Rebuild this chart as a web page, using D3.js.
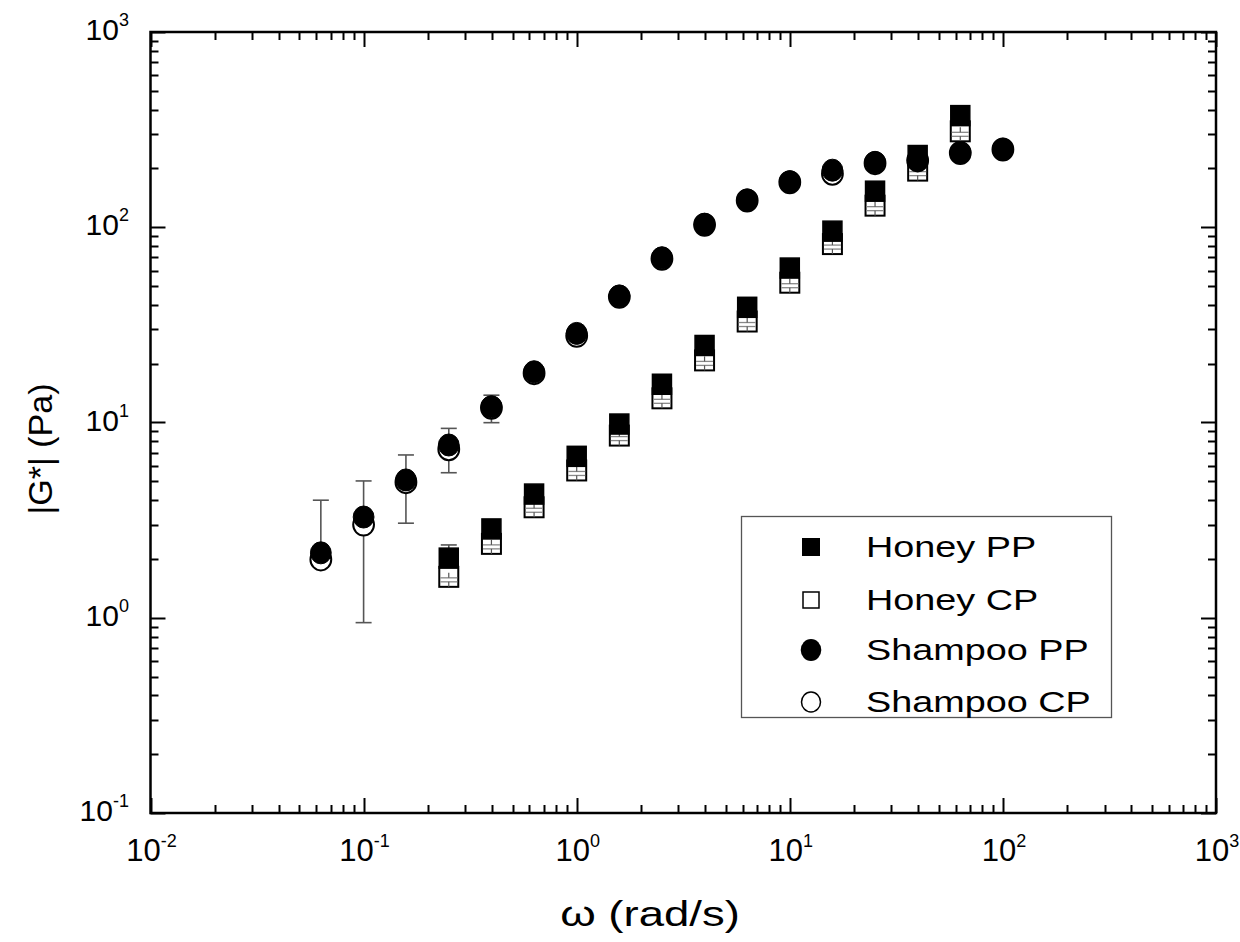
<!DOCTYPE html>
<html><head><meta charset="utf-8">
<script src="https://cdn.jsdelivr.net/npm/d3@7/dist/d3.min.js"></script>
<style>body{margin:0;background:#fff;} svg{display:block;} text{font-family:"Liberation Sans",Arial,sans-serif;fill:#000;}</style>
</head><body>
<svg id="c" width="1240" height="942"></svg>
<script>
// ---- data ----
const omegaShampoo = [0.063,0.1,0.158,0.251,0.398,0.631,1,1.585,2.512,3.981,6.31,10,15.85,25.12,39.81,63.1,100];
const shampooPP = [2.15,3.28,5.08,7.67,12.05,18.2,28.6,44.5,69.8,103.5,138,171,196,215,221,241,251];
const shampooCP = [1.99,3.0,4.95,7.3,11.9,17.9,27.8,44,69,103,137,170,188,213,220,240,250];
const omegaHoney = [0.251,0.398,0.631,1,1.585,2.512,3.981,6.31,10,15.85,25.12,39.81,63.1];
const honeyPP = [2.02,2.85,4.30,6.71,9.82,15.7,24.8,38.9,61.8,95.5,153,233,373];
const honeyCP = [1.62,2.39,3.68,5.68,8.57,13.3,20.8,32.9,52,82,129,195,310];
const errOmega = [0.063,0.1,0.158,0.251,0.398,0.251];
const errLow  = [2.0,0.944,3.05,5.53,9.98,2.0];
const errHigh = [4.0,5.02,6.82,9.33,13.8,2.36];
const xTickExp = [-2,-1,0,1,2,3];
const yTickExp = [-1,0,1,2,3];
const legendLabels = ["Honey PP","Honey CP","Shampoo PP","Shampoo CP"];
const xTitle = "ω (rad/s)";
const yTitle = "|G*| (Pa)";

const svg = d3.select("#c");
const L=150.5, R=1216, T=32, B=813;
const x = d3.scaleLog().domain([0.01,1000]).range([L,R]);
const y = d3.scaleLog().domain([0.1,1000]).range([B,T]);
const MAJ=15, MIN=8;

// ticks
const isMajor = v => Math.abs(Math.log10(v)-Math.round(Math.log10(v)))<1e-9;
const xt = x.ticks(), yt = y.ticks();
const tg = svg.append("g").attr("stroke","#000").attr("stroke-width",2);
xt.forEach(v=>{
  const len = isMajor(v)?MAJ:MIN, px = Math.round(x(v))+0.5;
  tg.append("line").attr("x1",px).attr("x2",px).attr("y1",B).attr("y2",B-len);
  tg.append("line").attr("x1",px).attr("x2",px).attr("y1",T).attr("y2",T+len);
});
yt.forEach(v=>{
  const len = isMajor(v)?MAJ:MIN, py = Math.round(y(v))+0.5;
  tg.append("line").attr("x1",L).attr("x2",L+len).attr("y1",py).attr("y2",py);
  tg.append("line").attr("x1",R).attr("x2",R-len).attr("y1",py).attr("y2",py);
});
svg.append("rect").attr("x",L).attr("y",T).attr("width",R-L).attr("height",B-T)
  .attr("fill","none").attr("stroke","#000").attr("stroke-width",2.5);

// tick labels
function powLabel(g, e, anchor, fs){
  const t = g.append("text").attr("text-anchor",anchor).attr("font-size",fs);
  t.append("tspan").text("10");
  t.append("tspan").attr("font-size",18).attr("dy",-14).text(String(e));
  return t;
}
xTickExp.forEach(e=>{
  const g = svg.append("g").attr("transform",`translate(${x(Math.pow(10,e))+1},861)`);
  powLabel(g,e,"middle",31);
});
yTickExp.forEach(e=>{
  const g = svg.append("g").attr("transform",`translate(129,${y(Math.pow(10,e))+8})`);
  powLabel(g,e,"end",30);
});

// axis titles
svg.append("text").attr("transform","translate(650,926) scale(1.3,1)").attr("text-anchor","middle").attr("font-size",35).text(xTitle);
svg.append("text").attr("transform","translate(52,449) rotate(-90)").attr("text-anchor","middle").attr("font-size",34).text(yTitle);

// error bars
const eg = svg.append("g").attr("stroke","#555").attr("stroke-width",1.6);
errOmega.forEach((w,i)=>{
  const px=x(w), y1=y(errLow[i]), y2=y(errHigh[i]);
  eg.append("line").attr("x1",px).attr("x2",px).attr("y1",y1).attr("y2",y2);
  eg.append("line").attr("x1",px-8).attr("x2",px+8).attr("y1",y2).attr("y2",y2);
  eg.append("line").attr("x1",px-8).attr("x2",px+8).attr("y1",y1).attr("y2",y1);
});

// markers
const SW=19, SH=20, CR=11;
function openSquare(g,cx,cy){
  g.append("rect").attr("x",cx-SW/2).attr("y",cy-SH/2).attr("width",SW).attr("height",SH)
    .attr("fill","#fff").attr("stroke","#000").attr("stroke-width",2);
  g.append("line").attr("x1",cx-SW/2+1).attr("x2",cx+SW/2-1).attr("y1",cy+1).attr("y2",cy+1).attr("stroke","#888").attr("stroke-width",1.3);
  g.append("line").attr("x1",cx-SW/2+1).attr("x2",cx+SW/2-1).attr("y1",cy+5).attr("y2",cy+5).attr("stroke","#888").attr("stroke-width",1.3);
  g.append("line").attr("x1",cx).attr("x2",cx).attr("y1",cy-4).attr("y2",cy+1).attr("stroke","#555").attr("stroke-width",1.2);
  g.append("line").attr("x1",cx).attr("x2",cx).attr("y1",cy+5).attr("y2",cy+SH/2).attr("stroke","#555").attr("stroke-width",1.2);
}
function filledSquare(g,cx,cy){
  g.append("rect").attr("x",cx-SW/2).attr("y",cy-SH/2).attr("width",SW).attr("height",SH)
    .attr("fill","#000").attr("stroke","#000").attr("stroke-width",1.5);
}
function openCircle(g,cx,cy){
  g.append("ellipse").attr("cx",cx).attr("cy",cy).attr("rx",CR-0.6).attr("ry",CR).attr("fill","#fff").attr("stroke","#000").attr("stroke-width",2);
}
function filledCircle(g,cx,cy){
  g.append("ellipse").attr("cx",cx).attr("cy",cy).attr("rx",CR-0.6).attr("ry",CR).attr("fill","#000").attr("stroke","#000").attr("stroke-width",1);
}
const mg = svg.append("g");
omegaHoney.forEach((w,i)=>openSquare(mg,x(w),y(honeyCP[i])));
omegaHoney.forEach((w,i)=>filledSquare(mg,x(w),y(honeyPP[i])));
omegaShampoo.forEach((w,i)=>openCircle(mg,x(w),y(shampooCP[i])));
omegaShampoo.forEach((w,i)=>filledCircle(mg,x(w),y(shampooPP[i])));

// legend
svg.append("rect").attr("x",741.5).attr("y",516.5).attr("width",370).attr("height",201)
  .attr("fill","#fff").attr("stroke","#555").attr("stroke-width",1.3);
const lg = svg.append("g");
const rows=[547,600,650,702];
const drawers=[
  (cx,cy)=>lg.append("rect").attr("x",cx-9).attr("y",cy-9).attr("width",18).attr("height",18).attr("fill","#000"),
  (cx,cy)=>lg.append("rect").attr("x",cx-8).attr("y",cy-8).attr("width",16).attr("height",16).attr("fill","#fff").attr("stroke","#000").attr("stroke-width",1.5),
  (cx,cy)=>lg.append("ellipse").attr("cx",cx).attr("cy",cy).attr("rx",10.3).attr("ry",11).attr("fill","#000"),
  (cx,cy)=>lg.append("ellipse").attr("cx",cx).attr("cy",cy).attr("rx",9.5).attr("ry",10).attr("fill","#fff").attr("stroke","#000").attr("stroke-width",1.5)
];
legendLabels.forEach((s,i)=>{
  drawers[i](811,rows[i]);
  lg.append("text").attr("transform",`translate(866,${rows[i]+10}) scale(1.26,1)`).attr("font-size",30).text(s);
});
</script>
</body></html>
